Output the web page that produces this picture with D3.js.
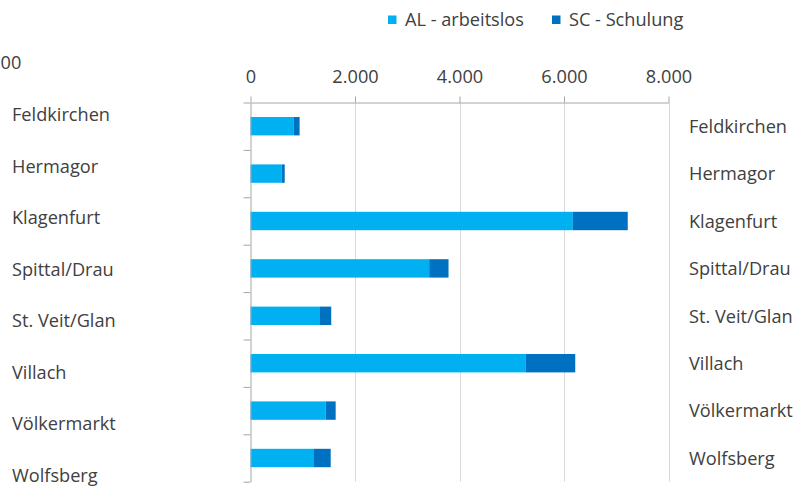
<!DOCTYPE html>
<html>
<head>
<meta charset="utf-8">
<script src="https://cdn.jsdelivr.net/npm/d3@7"></script>
<style>
  html, body { margin: 0; padding: 0; background: #fff; overflow: hidden; }
  svg { display: block; }
</style>
</head>
<body>
<svg id="chart" width="800" height="486"></svg>
<script>
// ---- data ----
const categories = ["Feldkirchen", "Hermagor", "Klagenfurt", "Spittal/Drau", "St. Veit/Glan", "Villach", "Völkermarkt", "Wolfsberg"];
const seriesNames = ["AL - arbeitslos", "SC - Schulung"];
const alValues = [830, 600, 6170, 3420, 1330, 5270, 1440, 1215];
const scValues = [110, 55, 1050, 370, 215, 945, 190, 320];
const xTicks = [0, 2000, 4000, 6000, 8000];
const croppedLabel = "00";
const seriesColors = ["#00b0f0", "#0070c0"];

const FONT = "'Open Sans', sans-serif";
const TEXT = "#404040";
const AXIS = "#a6a6a6";
const GRID = "#d9d9d9";

const svg = d3.select("#chart");

// fit font size so "Feldkirchen" is ~98px wide (Calibri-like metrics of the original)
const probe = svg.append("text").attr("font-family", FONT).attr("font-size", 100).text("Feldkirchen");
const fs = 98 / probe.node().getComputedTextLength() * 100;
probe.remove();

const de = d3.formatLocale({ decimal: ",", thousands: ".", grouping: [3], currency: ["", " €"] });
const fmt = de.format(",.0f");

// ---- scales ----
const x = d3.scaleLinear().domain([0, 8000]).range([250.5, 668.5]);
const y = d3.scaleBand().domain(categories).range([102.5, 481.7]).paddingInner(0.612).paddingOuter(0.306);
const yIdx = d3.scaleLinear().domain([0, categories.length]).range([102.5, 481.7]);

// ---- gridlines ----
svg.append("g").selectAll("line").data(xTicks.slice(1)).join("line")
  .attr("x1", d => Math.round(x(d)) + 0.5).attr("x2", d => Math.round(x(d)) + 0.5)
  .attr("y1", 102.5).attr("y2", 481.7)
  .attr("stroke", GRID).attr("stroke-width", 1);

// ---- bars ----
const stackData = categories.map((c, i) => ({ cat: c, AL: alValues[i], SC: scValues[i] }));
const stacked = d3.stack().keys(["AL", "SC"])(stackData);
svg.append("g").selectAll("g").data(stacked).join("g")
  .attr("fill", (d, i) => seriesColors[i])
  .selectAll("rect").data(d => d).join("rect")
  .attr("x", d => x(d[0]))
  .attr("width", d => x(d[1]) - x(d[0]))
  .attr("y", d => y(d.data.cat))
  .attr("height", y.bandwidth());

// ---- top value axis ----
const xAxis = svg.append("g").attr("transform", "translate(0,102.5)")
  .call(d3.axisTop(x).tickValues(xTicks).tickFormat(fmt).tickSize(6).tickSizeOuter(0).tickPadding(14));
xAxis.select(".domain").attr("stroke", AXIS);
xAxis.selectAll(".tick line").attr("stroke", AXIS);
xAxis.selectAll(".tick text").attr("fill", TEXT).attr("font-family", FONT).attr("font-size", fs);

// ---- category axis (boundary ticks) ----
const yAxis = svg.append("g").attr("transform", "translate(250.5,0)")
  .call(d3.axisLeft(yIdx).tickValues(d3.range(categories.length + 1)).tickFormat("").tickSize(7).tickSizeOuter(0));
yAxis.select(".domain").attr("stroke", AXIS);
yAxis.selectAll(".tick line").attr("stroke", AXIS);

// ---- category labels on the right ----
const rAxis = svg.append("g").attr("transform", "translate(689,1)")
  .call(d3.axisRight(y).tickSize(0).tickPadding(0));
rAxis.select(".domain").remove();
rAxis.selectAll(".tick text").attr("fill", TEXT).attr("font-family", FONT).attr("font-size", fs);

// ---- labels of the neighbouring (cropped) chart on the left ----
const yLeft = d3.scaleBand().domain(categories).range([89.75, 501.75]);
const lAxis = svg.append("g").attr("transform", "translate(12,0)")
  .call(d3.axisRight(yLeft).tickSize(0).tickPadding(0));
lAxis.select(".domain").remove();
lAxis.selectAll(".tick text").attr("fill", TEXT).attr("font-family", FONT).attr("font-size", fs);
svg.append("text").attr("x", 0.5).attr("y", 69).attr("text-anchor", "start")
  .attr("fill", TEXT).attr("font-family", FONT).attr("font-size", fs).text(croppedLabel);

// ---- legend ----
const legendX = [388, 552];
const lg = svg.append("g").selectAll("g").data(seriesNames).join("g")
  .attr("transform", (d, i) => `translate(${legendX[i]},0)`);
lg.append("rect").attr("x", 0).attr("y", 15.5).attr("width", 8.5).attr("height", 8.5)
  .attr("fill", (d, i) => seriesColors[i]);
lg.append("text").attr("x", 17).attr("y", 26).attr("fill", TEXT)
  .attr("font-family", FONT).attr("font-size", fs).text(d => d);
</script>
</body>
</html>
